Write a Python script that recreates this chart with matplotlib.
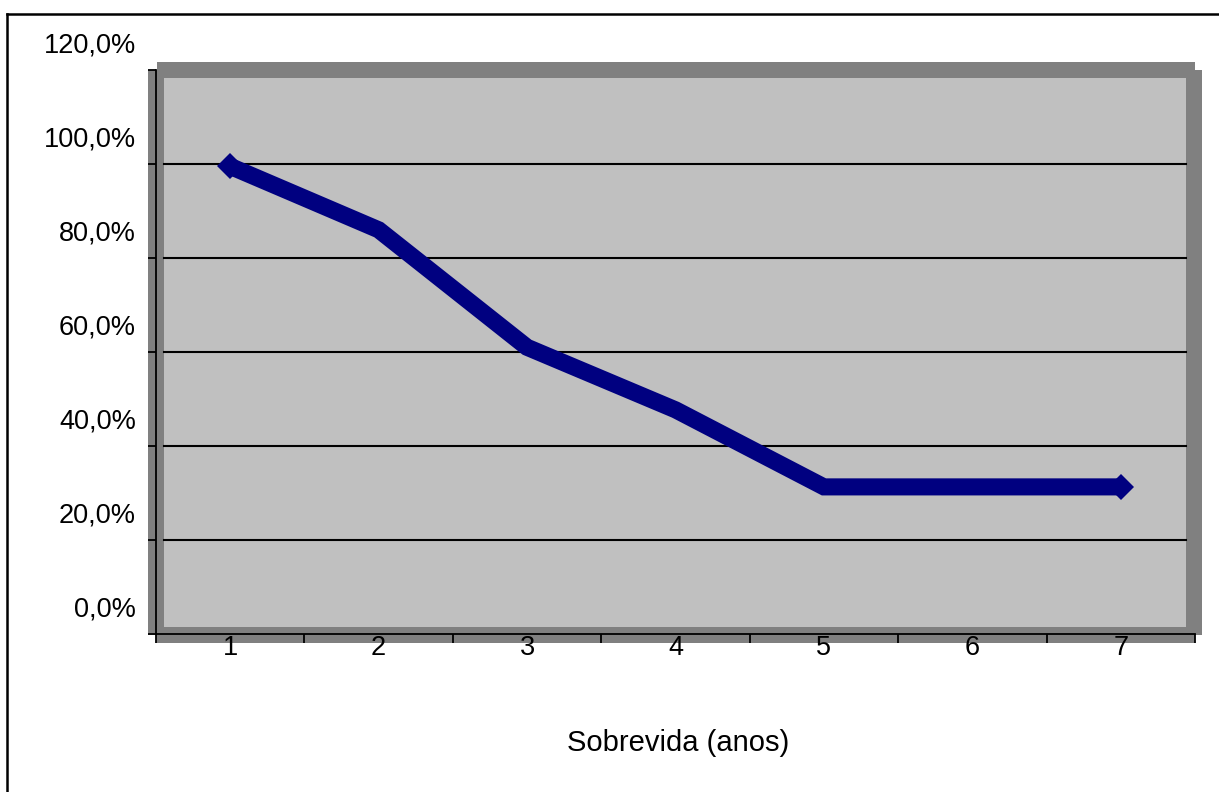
import numpy as np
import matplotlib.pyplot as plt
from matplotlib.patches import Rectangle
from matplotlib.lines import Line2D
from matplotlib import transforms

anos = [1, 2, 3, 4, 5, 6, 7]
sobrevida = [0.995, 0.86, 0.61, 0.477, 0.313, 0.313, 0.313]
y_ticks = [0.0, 0.2, 0.4, 0.6, 0.8, 1.0, 1.2]
y_labels = ['0,0%', '20,0%', '40,0%', '60,0%', '80,0%', '100,0%', '120,0%']

W, H = 1219, 792
plt.rcParams['font.family'] = ['Liberation Sans', 'DejaVu Sans']

fig = plt.figure(figsize=(W / 100, H / 100), dpi=100)


def fx(px):
    return px / W


def fy(py):
    return 1 - py / H


def box(x0, y0, x1, y1, color):
    fig.add_artist(Rectangle((fx(x0), fy(y1)), fx(x1) - fx(x0), fy(y0) - fy(y1),
                             transform=fig.transFigure, facecolor=color,
                             edgecolor='none', zorder=-1))


# plot area walls: dark frame, then the light panel
box(157, 62, 1195, 627, '#808080')
box(148, 70, 1202, 635, '#808080')
box(156, 634, 1195, 643, '#808080')
box(164, 78, 1186, 627, '#C0C0C0')

ax = fig.add_axes([fx(156), fy(634), fx(1195) - fx(156), fy(70) - fy(634)])
ax.set_facecolor('none')
ax.set_xlim(0.5, 7.5)
ax.set_ylim(0, 1.2)

for s in ['top', 'right']:
    ax.spines[s].set_visible(False)
for s in ['left', 'bottom']:
    ax.spines[s].set_linewidth(1.3)
    ax.spines[s].set_color('black')

# gridlines only across the light panel
gx0 = (164 - 156) / (1195 - 156)
gx1 = (1186 - 156) / (1195 - 156)
for v in y_ticks[1:-1]:
    ax.axhline(v, xmin=gx0, xmax=gx1, color='black', lw=1.5, zorder=1)

ax.plot(anos, sobrevida, color='#000080', lw=12.3, marker='D', ms=13,
        markevery=[0, len(anos) - 1], mew=0, solid_joinstyle='miter',
        solid_capstyle='butt', zorder=3, clip_on=False)

# x axis: ticks between categories, labels at the centres
ax.set_xticks(np.arange(0.5, 8, 1))
ax.set_xticklabels([])
ax.set_xticks(anos, minor=True)
ax.set_xticklabels([str(a) for a in anos], minor=True, fontsize=19.5)
ax.tick_params(axis='x', which='major', direction='out', length=6.5, width=1.3)
ax.tick_params(axis='x', which='minor', length=0, pad=1)

# y axis: labels sit above their ticks
ax.set_yticks(y_ticks)
ax.set_yticklabels([])
ax.tick_params(axis='y', direction='out', length=5.8, width=1.3)
off = transforms.ScaledTranslation(-0.20, 0.25, fig.dpi_scale_trans)
for v, lab in zip(y_ticks, y_labels):
    ax.text(0, v, lab, transform=ax.get_yaxis_transform() + off,
            ha='right', va='center', fontsize=19.5)

fig.text(fx(678), fy(743), 'Sobrevida (anos)', ha='center', va='center',
         fontsize=21)

# outer frame
fig.add_artist(Line2D([fx(7), fx(7)], [fy(14), 0], color='black', lw=1.8,
                      transform=fig.transFigure))
fig.add_artist(Line2D([fx(7), 1], [fy(14), fy(14)], color='black', lw=1.8,
                      transform=fig.transFigure))

fig.savefig('out.png', dpi=100)
